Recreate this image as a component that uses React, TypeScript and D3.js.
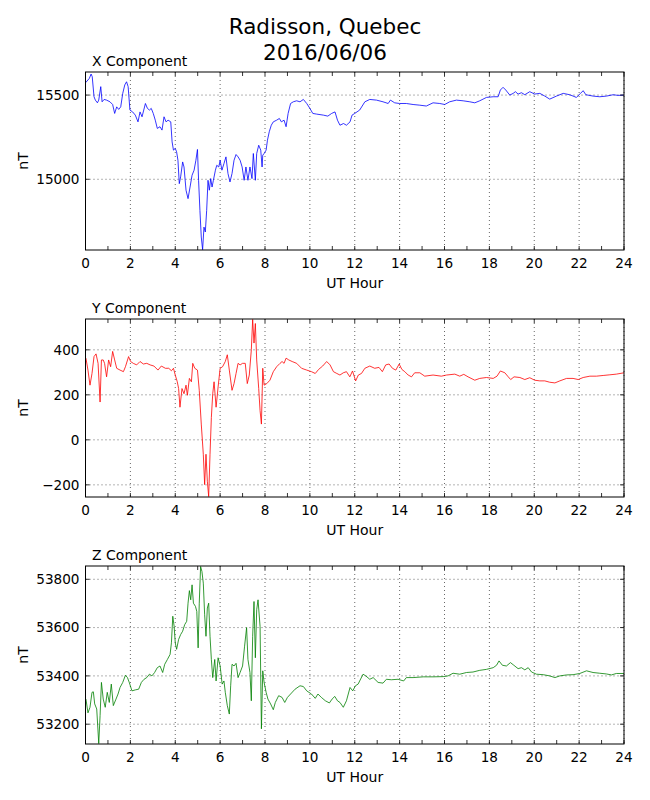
import React from 'react';
import * as d3 from 'd3';

// hour, nT pairs
const xComponent: [number, number][] = [
  [0.0, 15573], [0.17, 15599], [0.25, 15625], [0.3, 15609], [0.38, 15490], [0.44, 15470], [0.53, 15454], [0.59, 15470],
  [0.68, 15550], [0.74, 15460], [0.83, 15474], [0.94, 15470], [1.09, 15460], [1.21, 15444], [1.3, 15391], [1.39, 15430],
  [1.48, 15415], [1.57, 15430], [1.66, 15510], [1.75, 15560], [1.83, 15579], [1.9, 15550], [1.98, 15411], [2.1, 15400],
  [2.22, 15381], [2.34, 15341], [2.43, 15400], [2.52, 15371], [2.67, 15450], [2.76, 15421], [2.85, 15411], [2.93, 15421],
  [3.02, 15391], [3.11, 15351], [3.2, 15302], [3.32, 15312], [3.41, 15292], [3.5, 15371], [3.59, 15341], [3.68, 15351],
  [3.8, 15341], [3.86, 15222], [3.92, 15173], [4.0, 15183], [4.06, 15163], [4.12, 15113], [4.18, 14974], [4.24, 15014],
  [4.33, 15103], [4.39, 15073], [4.48, 14935], [4.57, 14885], [4.66, 14954], [4.75, 15024], [4.84, 15054], [4.92, 15113],
  [4.99, 15177], [5.04, 14994], [5.1, 14815], [5.16, 14657], [5.22, 14582], [5.28, 14716], [5.34, 14687], [5.4, 14815],
  [5.46, 14994], [5.52, 14935], [5.58, 15004], [5.64, 14954], [5.7, 14994], [5.79, 15054], [5.85, 15083], [5.94, 15073],
  [6.0, 15113], [6.08, 15054], [6.17, 15093], [6.26, 15133], [6.35, 15034], [6.44, 14984], [6.53, 15034], [6.62, 15113],
  [6.71, 15147], [6.8, 15133], [6.89, 15113], [6.98, 15073], [7.07, 14994], [7.15, 15073], [7.24, 14994], [7.33, 15073],
  [7.42, 15004], [7.48, 15153], [7.57, 14994], [7.63, 15153], [7.72, 15202], [7.81, 15173], [7.87, 15073], [7.9, 15143],
  [7.96, 15153], [8.05, 15173], [8.11, 15232], [8.19, 15282], [8.28, 15321], [8.37, 15341], [8.52, 15351], [8.64, 15361],
  [8.73, 15341], [8.85, 15351], [8.94, 15312], [9.03, 15391], [9.14, 15450], [9.26, 15460], [9.41, 15466], [9.56, 15460],
  [9.71, 15474], [9.86, 15450], [10.0, 15421], [10.13, 15391], [10.3, 15387], [10.6, 15381], [10.8, 15375], [10.97, 15391],
  [11.12, 15400], [11.23, 15351], [11.34, 15321], [11.5, 15331], [11.63, 15321], [11.79, 15341], [11.88, 15381], [12.0, 15391],
  [12.22, 15411], [12.45, 15460], [12.67, 15474], [12.97, 15470], [13.26, 15460], [13.49, 15450], [13.59, 15470], [13.78, 15454],
  [14.0, 15450], [14.3, 15450], [14.6, 15444], [14.9, 15440], [15.19, 15435], [15.49, 15454], [15.79, 15450], [16.01, 15444],
  [16.23, 15460], [16.53, 15470], [16.83, 15466], [17.13, 15460], [17.35, 15454], [17.57, 15466], [17.87, 15486], [18.17, 15490],
  [18.39, 15490], [18.49, 15530], [18.61, 15546], [18.73, 15530], [18.91, 15500], [19.06, 15510], [19.16, 15520], [19.28, 15506],
  [19.43, 15514], [19.58, 15502], [19.8, 15520], [20.02, 15506], [20.25, 15510], [20.47, 15494], [20.69, 15476], [20.99, 15494],
  [21.29, 15510], [21.58, 15502], [21.88, 15486], [22.06, 15510], [22.18, 15526], [22.3, 15502], [22.62, 15494], [22.92, 15490],
  [23.22, 15494], [23.52, 15502], [23.74, 15498], [24.0, 15500],
];

const yComponent: [number, number][] = [
  [0.02, 363], [0.11, 310], [0.2, 243], [0.29, 295], [0.38, 370], [0.47, 382], [0.56, 340], [0.65, 168], [0.71, 355],
  [0.79, 355], [0.85, 340], [0.94, 280], [1.03, 355], [1.12, 325], [1.21, 393], [1.3, 355], [1.39, 318], [1.54, 310],
  [1.69, 303], [1.78, 325], [1.92, 370], [2.01, 348], [2.13, 340], [2.28, 333], [2.43, 348], [2.58, 337], [2.73, 340],
  [2.88, 333], [3.05, 328], [3.23, 310], [3.38, 328], [3.56, 318], [3.71, 318], [3.83, 307], [3.92, 318], [4.0, 288],
  [4.09, 258], [4.15, 228], [4.21, 145], [4.3, 228], [4.39, 205], [4.48, 243], [4.54, 198], [4.63, 273], [4.72, 258],
  [4.78, 340], [4.87, 318], [4.99, 310], [5.07, 220], [5.16, 70], [5.25, -64], [5.31, -199], [5.37, -64], [5.43, -184],
  [5.49, -252], [5.55, -64], [5.61, 100], [5.67, 205], [5.73, 258], [5.82, 145], [5.91, 235], [6.0, 318], [6.11, 325],
  [6.23, 348], [6.32, 378], [6.41, 310], [6.53, 220], [6.62, 250], [6.71, 295], [6.8, 340], [6.89, 333], [7.0, 340],
  [7.12, 340], [7.21, 250], [7.3, 288], [7.39, 400], [7.45, 535], [7.51, 430], [7.57, 517], [7.63, 355], [7.72, 228],
  [7.78, 130], [7.84, 70], [7.9, 318], [7.96, 243], [8.08, 250], [8.22, 265], [8.37, 303], [8.52, 325], [8.67, 340],
  [8.76, 348], [8.85, 340], [8.94, 363], [9.06, 355], [9.21, 348], [9.41, 340], [9.63, 318], [9.86, 310], [10.07, 303],
  [10.24, 295], [10.39, 313], [10.57, 328], [10.75, 348], [10.9, 333], [11.05, 303], [11.2, 295], [11.34, 288], [11.49, 298],
  [11.63, 303], [11.78, 280], [11.9, 306], [12.04, 262], [12.16, 288], [12.3, 295], [12.45, 318], [12.67, 328], [12.89, 318],
  [13.08, 322], [13.23, 303], [13.38, 333], [13.53, 337], [13.68, 318], [13.83, 310], [13.98, 337], [14.1, 313], [14.23, 303],
  [14.38, 288], [14.53, 280], [14.67, 298], [14.9, 298], [15.12, 283], [15.49, 288], [15.86, 283], [16.09, 288], [16.46, 292],
  [16.68, 283], [16.86, 291], [17.05, 280], [17.35, 265], [17.57, 273], [17.87, 277], [18.17, 273], [18.34, 283], [18.49, 306],
  [18.69, 298], [18.84, 280], [18.95, 268], [19.1, 280], [19.36, 277], [19.58, 268], [19.8, 276], [20.02, 265], [20.25, 262],
  [20.47, 262], [20.69, 256], [20.92, 253], [21.14, 262], [21.44, 273], [21.73, 273], [21.96, 268], [22.18, 277], [22.48, 283],
  [22.77, 283], [23.07, 286], [23.37, 289], [23.66, 292], [24.0, 298],
];

const zComponent: [number, number][] = [
  [0.02, 53304], [0.11, 53247], [0.2, 53270], [0.29, 53332], [0.35, 53334], [0.41, 53284], [0.5, 53263], [0.59, 53120],
  [0.65, 53236], [0.71, 53373], [0.79, 53304], [0.88, 53270], [0.97, 53332], [1.06, 53290], [1.15, 53366], [1.24, 53277],
  [1.36, 53304], [1.45, 53325], [1.54, 53352], [1.66, 53373], [1.78, 53403], [1.87, 53393], [1.95, 53373], [2.07, 53338],
  [2.22, 53342], [2.37, 53345], [2.49, 53373], [2.61, 53386], [2.73, 53393], [2.85, 53407], [2.96, 53400], [3.08, 53414],
  [3.2, 53434], [3.32, 53441], [3.44, 53414], [3.53, 53448], [3.65, 53468], [3.77, 53489], [3.83, 53537], [3.89, 53647],
  [3.95, 53605], [4.0, 53537], [4.06, 53510], [4.15, 53551], [4.24, 53571], [4.33, 53585], [4.42, 53612], [4.51, 53626],
  [4.57, 53701], [4.63, 53753], [4.69, 53715], [4.75, 53777], [4.81, 53701], [4.9, 53688], [4.96, 53667], [5.02, 53516],
  [5.07, 53701], [5.13, 53853], [5.19, 53832], [5.25, 53784], [5.31, 53653], [5.37, 53564], [5.43, 53681], [5.49, 53701],
  [5.55, 53564], [5.61, 53468], [5.67, 53393], [5.76, 53468], [5.82, 53379], [5.91, 53475], [6.0, 53441], [6.09, 53366],
  [6.17, 53379], [6.23, 53332], [6.32, 53277], [6.41, 53242], [6.47, 53359], [6.53, 53448], [6.62, 53441], [6.71, 53452],
  [6.8, 53393], [6.89, 53414], [7.0, 53441], [7.09, 53523], [7.18, 53600], [7.24, 53468], [7.33, 53414], [7.39, 53297],
  [7.45, 53564], [7.51, 53708], [7.57, 53475], [7.63, 53674], [7.69, 53715], [7.78, 53605], [7.84, 53181], [7.9, 53421],
  [7.96, 53373], [8.05, 53332], [8.13, 53304], [8.25, 53284], [8.37, 53260], [8.46, 53290], [8.61, 53318], [8.76, 53311],
  [8.88, 53290], [9.0, 53311], [9.14, 53325], [9.34, 53345], [9.56, 53359], [9.71, 53356], [9.86, 53338], [10.07, 53325],
  [10.24, 53307], [10.36, 53325], [10.51, 53311], [10.69, 53297], [10.87, 53288], [10.99, 53304], [11.11, 53315], [11.23, 53297],
  [11.34, 53290], [11.49, 53270], [11.63, 53297], [11.79, 53352], [11.91, 53338], [12.03, 53359], [12.15, 53366], [12.37, 53407],
  [12.49, 53400], [12.67, 53386], [12.82, 53393], [13.04, 53373], [13.26, 53370], [13.41, 53386], [13.63, 53384], [13.93, 53386],
  [14.18, 53379], [14.3, 53393], [14.6, 53393], [15.05, 53396], [15.49, 53396], [15.94, 53397], [16.16, 53400], [16.38, 53411],
  [16.68, 53407], [16.98, 53414], [17.27, 53416], [17.57, 53423], [17.87, 53427], [18.17, 53434], [18.32, 53444], [18.43, 53462],
  [18.58, 53444], [18.76, 53441], [18.94, 53455], [19.09, 53444], [19.28, 53430], [19.43, 53434], [19.58, 53425], [19.73, 53434],
  [19.88, 53416], [20.1, 53407], [20.4, 53405], [20.69, 53400], [20.92, 53393], [21.14, 53400], [21.44, 53404], [21.73, 53405],
  [22.03, 53410], [22.33, 53421], [22.62, 53414], [22.92, 53411], [23.22, 53408], [23.44, 53404], [23.66, 53410], [24.0, 53410],
];

const xDomain: [number, number] = [14580, 15637];
const yDomain: [number, number] = [-254, 537];
const zDomain: [number, number] = [53118, 53855];

const xTicks = [15000, 15500];
const yTicks = [-200, 0, 200, 400];
const zTicks = [53200, 53400, 53600, 53800];

const hourTicks = d3.range(0, 25, 1);
const hourLabels = d3.range(0, 25, 2);

const FONT = 'DejaVu Sans, sans-serif';
const LEFT = 85.5;
const RIGHT = 624;
const PANEL_H = 178;
const TICK = 4;

interface PanelProps {
  top: number;
  title: string;
  data: [number, number][];
  domain: [number, number];
  ticks: number[];
  color: string;
  id: string;
}

const fmt = (v: number) => (v < 0 ? '\u2212' + Math.abs(v) : String(v));

const Panel: React.FC<PanelProps> = ({ top, title, data, domain, ticks, color, id }) => {
  const bottom = top + PANEL_H;
  const x = d3.scaleLinear().domain([0, 24]).range([LEFT, RIGHT]);
  const y = d3.scaleLinear().domain(domain).range([bottom, top]);
  const line = d3
    .line<[number, number]>()
    .x(d => x(d[0]))
    .y(d => y(d[1]));

  return (
    <g>
      <clipPath id={id}>
        <rect x={LEFT} y={top} width={RIGHT - LEFT} height={PANEL_H} />
      </clipPath>

      {/* grid */}
      {hourLabels.map(h => (
        <line key={'gx' + h} x1={x(h)} x2={x(h)} y1={top} y2={bottom}
          stroke="#000" strokeWidth={0.6} strokeDasharray="1,3" />
      ))}
      {ticks.map(t => (
        <line key={'gy' + t} x1={LEFT} x2={RIGHT} y1={y(t)} y2={y(t)}
          stroke="#000" strokeWidth={0.6} strokeDasharray="1,3" />
      ))}

      <path d={line(data) || ''} fill="none" stroke={color} strokeWidth={0.8}
        strokeLinejoin="round" clipPath={`url(#${id})`} />

      {/* ticks, inward on all sides */}
      {hourTicks.map(h => (
        <g key={'tx' + h}>
          <line x1={x(h)} x2={x(h)} y1={bottom} y2={bottom - TICK} stroke="#000" strokeWidth={0.8} />
          <line x1={x(h)} x2={x(h)} y1={top} y2={top + TICK} stroke="#000" strokeWidth={0.8} />
        </g>
      ))}
      {ticks.map(t => (
        <g key={'ty' + t}>
          <line x1={LEFT} x2={LEFT + TICK} y1={y(t)} y2={y(t)} stroke="#000" strokeWidth={0.8} />
          <line x1={RIGHT} x2={RIGHT - TICK} y1={y(t)} y2={y(t)} stroke="#000" strokeWidth={0.8} />
          <text x={LEFT - 6} y={y(t) + 4.8} textAnchor="end" fontSize={13.6} fontFamily={FONT}>
            {fmt(t)}
          </text>
        </g>
      ))}
      {hourLabels.map(h => (
        <text key={'lx' + h} x={x(h)} y={bottom + 17.5} textAnchor="middle" fontSize={13.6} fontFamily={FONT}>
          {h}
        </text>
      ))}

      <rect x={LEFT} y={top} width={RIGHT - LEFT} height={PANEL_H} fill="none" stroke="#000" strokeWidth={1} />

      <text x={92} y={top - 6.5} fontSize={14} fontFamily={FONT}>{title}</text>
      <text x={(LEFT + RIGHT) / 2} y={bottom + 38} textAnchor="middle" fontSize={14} fontFamily={FONT}>
        UT Hour
      </text>
      <text transform={`translate(28, ${top + PANEL_H / 2}) rotate(-90)`} textAnchor="middle"
        fontSize={14} fontFamily={FONT}>
        nT
      </text>
    </g>
  );
};

const App: React.FC = () => (
  <svg width={650} height={800} style={{ position: 'absolute', left: 0, top: 0, background: '#fff' }}>
    <rect width={650} height={800} fill="#fff" />
    <text x={325} y={33.5} textAnchor="middle" fontSize={21.5} fontFamily={FONT}>Radisson, Quebec</text>
    <text x={325} y={60} textAnchor="middle" fontSize={21.5} fontFamily={FONT}>2016/06/06</text>
    <Panel top={72} title="X Component" data={xComponent} domain={xDomain} ticks={xTicks} color="#0000ff" id="cx" />
    <Panel top={319} title="Y Component" data={yComponent} domain={yDomain} ticks={yTicks} color="#ff0000" id="cy" />
    <Panel top={566} title="Z Component" data={zComponent} domain={zDomain} ticks={zTicks} color="#008000" id="cz" />
  </svg>
);

export default App;
